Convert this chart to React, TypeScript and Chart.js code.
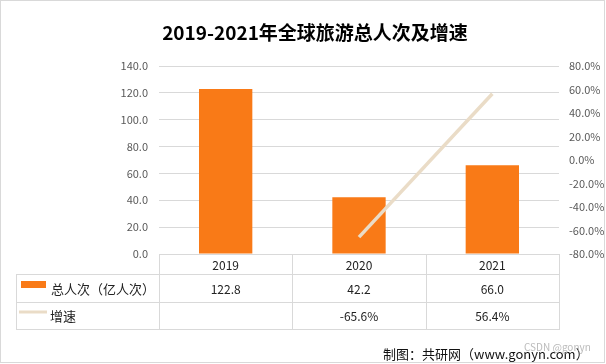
import React, { useEffect, useRef } from 'react';
import { Chart, registerables } from 'chart.js';

Chart.register(...registerables);

const chartTitle = '2019-2021年全球旅游总人次及增速';
const years = ['2019', '2020', '2021'];
const totalVisits = [122.8, 42.2, 66.0];
const growthRates: (number | null)[] = [null, -65.6, 56.4];
const barLabel = '总人次（亿人次）';
const lineLabel = '增速';
const footerText = '制图：共研网（www.gonyn.com）';
const watermark = 'CSDN @gonyn';

const BAR_COLOR = '#F97A17';
const LINE_COLOR = '#EADCC7';
const GRID = '#D9D9D9';
const FONT = '"Noto Sans CJK SC", "Noto Sans", sans-serif';

const overlayPlugin = {
  id: 'overlay',
  afterDraw(chart: any) {
    const ctx = chart.ctx as CanvasRenderingContext2D;
    const { left, right, bottom } = chart.chartArea;
    const n = years.length;
    const colW = (right - left) / n;
    const y0 = Math.round(bottom);
    const y1 = y0 + 20;
    const y2 = y1 + 28;
    const y3 = y2 + 27;
    const tableLeft = 16;
    const a = (v: number) => Math.round(v) + 0.5;

    ctx.save();
    // outer frame
    ctx.strokeStyle = GRID;
    ctx.lineWidth = 1;
    ctx.strokeRect(0.5, 0.5, 604, 362);

    // title
    ctx.fillStyle = '#000';
    ctx.font = `bold 19px ${FONT}`;
    ctx.textAlign = 'center';
    ctx.textBaseline = 'middle';
    ctx.fillText(chartTitle, 315, 33);

    // table grid
    ctx.beginPath();
    for (let i = 0; i <= n; i++) {
      const x = a(left + i * colW);
      ctx.moveTo(x, y0);
      ctx.lineTo(x, y3);
    }
    ctx.moveTo(a(tableLeft), y1);
    ctx.lineTo(a(tableLeft), y3);
    [y1, y2, y3].forEach((y) => {
      ctx.moveTo(tableLeft, a(y));
      ctx.lineTo(a(right) + 0.5, a(y));
    });
    ctx.stroke();

    // table text
    ctx.font = `12px ${FONT}`;
    ctx.fillStyle = '#222';
    ctx.textAlign = 'center';
    for (let i = 0; i < n; i++) {
      const cx = left + (i + 0.5) * colW;
      ctx.fillText(years[i], cx, (y0 + y1) / 2 + 1);
      ctx.fillText(totalVisits[i].toFixed(1), cx, (y1 + y2) / 2 + 1);
      const g = growthRates[i];
      if (g !== null) ctx.fillText(g.toFixed(1) + '%', cx, (y2 + y3) / 2 + 1);
    }

    // legend keys
    ctx.fillStyle = BAR_COLOR;
    ctx.fillRect(21, y1 + 7, 25, 7);
    ctx.strokeStyle = LINE_COLOR;
    ctx.lineWidth = 3;
    ctx.beginPath();
    ctx.moveTo(19, y2 + 10);
    ctx.lineTo(47, y2 + 10);
    ctx.stroke();

    ctx.fillStyle = '#222';
    ctx.textAlign = 'left';
    ctx.font = `13px ${FONT}`;
    ctx.fillText(barLabel, 51, (y1 + y2) / 2 + 1);
    ctx.fillText(lineLabel, 50, (y2 + y3) / 2 + 1);

    // footer
    ctx.font = `13px ${FONT}`;
    ctx.fillStyle = '#111';
    ctx.fillText(footerText, 383, 354);
    ctx.font = `10px ${FONT}`;
    ctx.fillStyle = 'rgba(170,170,170,0.8)';
    ctx.fillText(watermark, 524, 347);
    ctx.restore();
  },
};

export default function App() {
  const ref = useRef<HTMLCanvasElement>(null);

  useEffect(() => {
    document.body.style.margin = '0';
    if (!ref.current) return;
    const chart = new Chart(ref.current, {
      type: 'bar',
      data: {
        labels: years,
        datasets: [
          {
            type: 'bar',
            label: barLabel,
            data: totalVisits,
            backgroundColor: BAR_COLOR,
            barPercentage: 0.4,
            categoryPercentage: 1,
            yAxisID: 'y',
            order: 2,
          },
          {
            type: 'line',
            label: lineLabel,
            data: growthRates,
            borderColor: LINE_COLOR,
            borderWidth: 3.5,
            pointRadius: 0,
            yAxisID: 'y1',
            order: 1,
          } as any,
        ],
      },
      options: {
        responsive: false,
        animation: false,
        devicePixelRatio: 1,
        layout: { padding: { top: 66, bottom: 110, left: 0, right: 0 } },
        plugins: {
          legend: { display: false },
          title: { display: false },
          tooltip: { enabled: false },
        },
        scales: {
          x: { display: false },
          y: {
            position: 'left',
            min: 0,
            max: 140,
            ticks: {
              stepSize: 20,
              padding: 11,
              color: '#595959',
              font: { size: 11, family: FONT },
              callback: (v: any) => Number(v).toFixed(1),
            },
            grid: { color: GRID, drawTicks: false },
            border: { display: false },
            afterFit: (s: any) => { s.width = 159; },
          },
          y1: {
            position: 'right',
            min: -80,
            max: 80,
            ticks: {
              stepSize: 20,
              padding: 10,
              color: '#595959',
              font: { size: 11, family: FONT },
              callback: (v: any) => Number(v).toFixed(1) + '%',
            },
            grid: { display: false, drawTicks: false },
            border: { display: false },
            afterFit: (s: any) => { s.width = 47; },
          },
        },
      },
      plugins: [overlayPlugin],
    });
    return () => chart.destroy();
  }, []);

  return (
    <div style={{ position: 'absolute', left: 0, top: 0, width: 606, height: 364, background: '#fff' }}>
      <canvas ref={ref} width={606} height={364} style={{ width: 606, height: 364, display: 'block' }} />
    </div>
  );
}
